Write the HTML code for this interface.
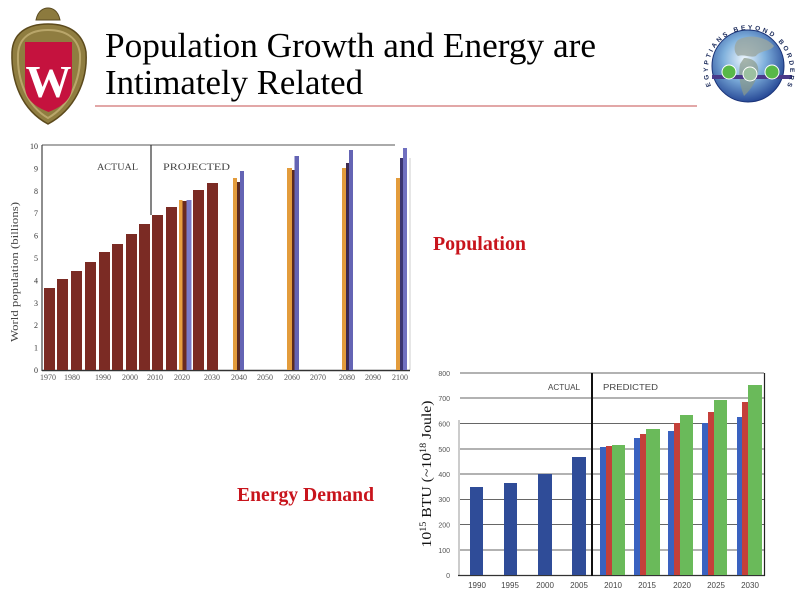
<!DOCTYPE html>
<html><head><meta charset="utf-8"><style>
html,body{margin:0;padding:0;background:#fff;}
svg{display:block;}
</style></head><body>
<svg width="800" height="600" viewBox="0 0 800 600" xmlns="http://www.w3.org/2000/svg">
<defs>
<radialGradient id="gl" cx="0.45" cy="0.4" r="0.65">
<stop offset="0" stop-color="#eef6fc"/><stop offset="0.45" stop-color="#7fb0dc"/><stop offset="1" stop-color="#1a3a8c"/>
</radialGradient>
</defs>
<rect width="800" height="600" fill="#fff"/>

<!-- UW logo -->
<g>
<path d="M36 20 C38 10,44 8,48 8 C52 8,58 10,60 20 Z" fill="#8c7a3e" stroke="#5a4a20" stroke-width="1"/>
<path d="M48 124 C22 110,11 82,12 52 C13 34,26 24,48 24 C70 24,83 34,86 52 C88 82,74 110,48 124 Z" fill="#8f7d40" stroke="#5c4a1c" stroke-width="1.5"/>
<path d="M48 118 C27 106,17 80,18 54 C19 38,30 30,48 30 C66 30,78 38,80 54 C81 80,69 106,48 118 Z" fill="none" stroke="#b9a66a" stroke-width="2"/>
<path d="M25 42 L72 42 L72 86 C72 100,61 107,48.5 112 C36 107,25 100,25 86 Z" fill="#c5123e"/>
<text x="48.5" y="97" text-anchor="middle" font-family="Liberation Serif, serif" font-size="46" font-weight="bold" fill="#fff">W</text>
</g>

<!-- Title -->
<text x="105" y="57" font-family="Liberation Serif, serif" font-size="35" fill="#000" textLength="491" lengthAdjust="spacingAndGlyphs">Population Growth and Energy are</text>
<text x="105" y="94" font-family="Liberation Serif, serif" font-size="35" fill="#000" textLength="258" lengthAdjust="spacingAndGlyphs">Intimately Related</text>
<line x1="95" y1="106" x2="697" y2="106" stroke="#d98a8a" stroke-width="1.5"/>

<!-- Globe logo -->
<g>
<circle cx="748" cy="66" r="36" fill="url(#gl)" stroke="#1a3377" stroke-width="1"/>
<path d="M738 40 C748 34,766 36,774 46 C770 52,760 50,756 56 C750 58,744 54,738 56 C733 52,734 44,738 40 Z" fill="#9aa6a0" opacity="0.8"/>
<path d="M744 58 C752 58,760 62,758 74 C754 86,748 92,744 96 C740 86,738 74,740 64 Z" fill="#8a9a8a" opacity="0.7"/>
<rect x="712" y="75" width="80" height="4" fill="#4a3a8a"/>
<circle cx="729" cy="72" r="7" fill="#58b848" stroke="#fff" stroke-width="1"/>
<circle cx="750" cy="74" r="7" fill="#9cc0a0" stroke="#fff" stroke-width="1"/>
<circle cx="772" cy="72" r="7" fill="#58b848" stroke="#fff" stroke-width="1"/>
<path id="arc" d="M711 86 A41 41 0 1 1 787 86" fill="none"/>
<text font-family="Liberation Sans, sans-serif" font-size="6.5" font-weight="bold" fill="#1a2a5a"><textPath href="#arc" textLength="160" lengthAdjust="spacing">EGYPTIANS  BEYOND  BORDERS</textPath></text>
</g>

<!-- Population chart -->
<g>
<line x1="42" y1="145" x2="395" y2="145" stroke="#777" stroke-width="1.2"/>
<line x1="410" y1="158" x2="410" y2="370" stroke="#ccc" stroke-width="1"/>
<line x1="42" y1="145" x2="42" y2="371" stroke="#444" stroke-width="1.2"/>
<line x1="42" y1="370.5" x2="410" y2="370.5" stroke="#333" stroke-width="1.4"/>
<line x1="151" y1="145" x2="151" y2="215" stroke="#333" stroke-width="1.2"/>
<g font-family="Liberation Serif, serif" font-size="8" fill="#333" text-anchor="end">
<text x="38" y="373">0</text><text x="38" y="350.6">1</text><text x="38" y="328.2">2</text><text x="38" y="305.8">3</text><text x="38" y="283.4">4</text><text x="38" y="261">5</text><text x="38" y="238.6">6</text><text x="38" y="216.2">7</text><text x="38" y="193.8">8</text><text x="38" y="171.4">9</text><text x="38" y="149">10</text>
</g>
<text transform="translate(18,272) rotate(-90)" text-anchor="middle" font-family="Liberation Serif, serif" font-size="10" fill="#444" textLength="140" lengthAdjust="spacingAndGlyphs">World population (billions)</text>
<text x="97" y="170" font-family="Liberation Serif, serif" font-size="9" fill="#444" textLength="41" lengthAdjust="spacingAndGlyphs">ACTUAL</text>
<text x="163" y="170" font-family="Liberation Serif, serif" font-size="9" fill="#444" textLength="67" lengthAdjust="spacingAndGlyphs">PROJECTED</text>
<g fill="#7b2b24">
<rect x="44" y="288" width="11" height="82"/>
<rect x="57" y="279" width="11" height="91"/>
<rect x="71" y="271" width="11" height="99"/>
<rect x="85" y="262" width="11" height="108"/>
<rect x="99" y="252" width="11" height="118"/>
<rect x="112" y="244" width="11" height="126"/>
<rect x="126" y="234" width="11" height="136"/>
<rect x="139" y="224" width="11" height="146"/>
<rect x="152" y="215" width="11" height="155"/>
<rect x="166" y="207" width="11" height="163"/>
<rect x="193" y="190" width="11" height="180"/>
<rect x="207" y="183" width="11" height="187"/>
</g>
<rect x="179" y="200" width="3.5" height="170" fill="#e8a040"/>
<rect x="182.5" y="201" width="4" height="169" fill="#6a2a20"/>
<rect x="186.5" y="200" width="5" height="170" fill="#7a7ac8"/>
<g>
<rect x="233" y="178" width="4" height="192" fill="#e39c3c"/>
<rect x="237" y="182" width="3" height="188" fill="#5a2a22"/>
<rect x="240" y="171" width="4" height="199" fill="#6464b4"/>
<rect x="287" y="168" width="5" height="202" fill="#e39c3c"/>
<rect x="292" y="170" width="2.5" height="200" fill="#5a2a22"/>
<rect x="294.5" y="156" width="4.5" height="214" fill="#6464b4"/>
<rect x="342" y="168" width="4" height="202" fill="#e39c3c"/>
<rect x="346" y="163" width="3" height="207" fill="#3d2a50"/>
<rect x="349" y="150" width="4" height="220" fill="#6464b4"/>
<rect x="396" y="178" width="4" height="192" fill="#e39c3c"/>
<rect x="400" y="158" width="3" height="212" fill="#3a3470"/>
<rect x="403" y="148" width="4" height="222" fill="#7070c0"/>
</g>
<g font-family="Liberation Serif, serif" font-size="8" fill="#555" text-anchor="middle">
<text x="48" y="380">1970</text><text x="72" y="380">1980</text><text x="103" y="380">1990</text><text x="130" y="380">2000</text><text x="155" y="380">2010</text><text x="182" y="380">2020</text><text x="212" y="380">2030</text>
<text x="239" y="380">2040</text><text x="265" y="380">2050</text><text x="292" y="380">2060</text><text x="318" y="380">2070</text><text x="347" y="380">2080</text><text x="373" y="380">2090</text><text x="400" y="380">2100</text>
</g>
</g>

<!-- Labels -->
<text x="433" y="250" font-family="Liberation Serif, serif" font-size="20" font-weight="bold" fill="#c8141c" textLength="93" lengthAdjust="spacingAndGlyphs">Population</text>
<text x="237" y="501" font-family="Liberation Serif, serif" font-size="20" font-weight="bold" fill="#c8141c" textLength="137" lengthAdjust="spacingAndGlyphs">Energy Demand</text>

<!-- Energy chart -->
<g>
<g stroke="#666" stroke-width="1.1">
<line x1="460" y1="373" x2="764" y2="373"/>
<line x1="460" y1="398" x2="764" y2="398"/>
<line x1="460" y1="423.5" x2="764" y2="423.5"/>
<line x1="460" y1="449" x2="764" y2="449"/>
<line x1="460" y1="474" x2="764" y2="474"/>
<line x1="460" y1="499.5" x2="764" y2="499.5"/>
<line x1="460" y1="524.5" x2="764" y2="524.5"/>
<line x1="460" y1="550" x2="764" y2="550"/>
</g>
<line x1="459" y1="420" x2="459" y2="576" stroke="#999" stroke-width="1"/>
<line x1="458" y1="575.5" x2="765" y2="575.5" stroke="#333" stroke-width="1.2"/>
<line x1="592" y1="373" x2="592" y2="576" stroke="#111" stroke-width="2"/>
<line x1="764.5" y1="373" x2="764.5" y2="576" stroke="#222" stroke-width="1.2"/>
<g font-family="Liberation Sans, sans-serif" font-size="7" fill="#555" text-anchor="end">
<text x="450" y="578">0</text><text x="450" y="553">100</text><text x="450" y="527.5">200</text><text x="450" y="502">300</text><text x="450" y="477">400</text><text x="450" y="452">500</text><text x="450" y="426.5">600</text><text x="450" y="401">700</text><text x="450" y="376">800</text>
</g>
<text x="548" y="390" font-family="Liberation Sans, sans-serif" font-size="8" fill="#444" textLength="32" lengthAdjust="spacingAndGlyphs">ACTUAL</text>
<text x="603" y="390" font-family="Liberation Sans, sans-serif" font-size="8" fill="#444" textLength="55" lengthAdjust="spacingAndGlyphs">PREDICTED</text>
<g fill="#2f4c98">
<rect x="470" y="487" width="13" height="88"/>
<rect x="504" y="483" width="13" height="92"/>
<rect x="538" y="474" width="14" height="101"/>
<rect x="572" y="457" width="14" height="118"/>
</g>
<g>
<rect x="600" y="447" width="6" height="128" fill="#3a62c0"/><rect x="606" y="446" width="6" height="129" fill="#c4403a"/><rect x="612" y="445" width="13" height="130" fill="#6aba5a"/>
<rect x="634" y="438" width="6" height="137" fill="#3a62c0"/><rect x="640" y="434" width="6" height="141" fill="#c4403a"/><rect x="646" y="429" width="14" height="146" fill="#6aba5a"/>
<rect x="668" y="431" width="6" height="144" fill="#3a62c0"/><rect x="674" y="423" width="6" height="152" fill="#c4403a"/><rect x="680" y="415" width="13" height="160" fill="#6aba5a"/>
<rect x="702" y="423" width="6" height="152" fill="#3a62c0"/><rect x="708" y="412" width="6" height="163" fill="#c4403a"/><rect x="714" y="400" width="13" height="175" fill="#6aba5a"/>
<rect x="737" y="417" width="5" height="158" fill="#3a62c0"/><rect x="742" y="402" width="6" height="173" fill="#c4403a"/><rect x="748" y="385" width="14" height="190" fill="#6aba5a"/>
</g>
<g font-family="Liberation Sans, sans-serif" font-size="8" fill="#444" text-anchor="middle">
<text x="477" y="588">1990</text><text x="510" y="588">1995</text><text x="545" y="588">2000</text><text x="579" y="588">2005</text><text x="613" y="588">2010</text><text x="647" y="588">2015</text><text x="682" y="588">2020</text><text x="716" y="588">2025</text><text x="750" y="588">2030</text>
</g>
<text transform="translate(431,474) rotate(-90)" text-anchor="middle" font-family="Liberation Serif, serif" font-size="14" fill="#111" textLength="147" lengthAdjust="spacingAndGlyphs">10<tspan font-size="9" dy="-5">15</tspan><tspan dy="5"> BTU (~10</tspan><tspan font-size="9" dy="-5">18</tspan><tspan dy="5"> Joule)</tspan></text>
</g>
</svg>
</body></html>
